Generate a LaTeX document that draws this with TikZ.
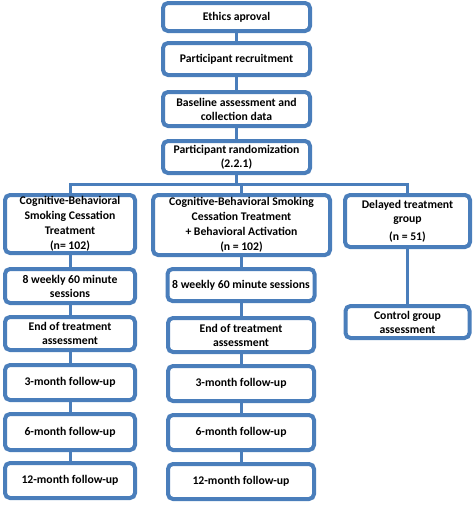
\documentclass[tikz,border=0pt]{standalone}
\usepackage{fontspec}
\setmainfont{Carlito}
\usetikzlibrary{shadows}
\definecolor{frame}{HTML}{4A7EBB}

\begin{document}
\begin{tikzpicture}[
  x=1pt, y=-1pt,
  stage/.style={rectangle, rounded corners=5pt, draw=frame, line width=4pt, fill=white, align=center, inner sep=1pt,
    font=\fontsize{11.7}{14}\selectfont\bfseries,
    drop shadow={opacity=0.2, shadow xshift=0.6pt, shadow yshift=-1.6pt}},
  link/.style={draw=frame, line width=3pt},
]
\useasboundingbox (0,0) rectangle (473,506);

% trunk
\node[stage, minimum width=147pt, minimum height=28pt] (ethics) at (236.5, 17) {Ethics aproval};
\node[stage, minimum width=147pt, minimum height=32pt] (recruit) at (236.5, 59) {Participant recruitment};
\node[stage, minimum width=147pt, minimum height=34pt] (baseline) at (236.5, 109) {Baseline assessment and\\collection data};
\node[stage, minimum width=147pt, minimum height=32pt] (random) at (236.5, 157) {Participant randomization\\(2.2.1)};

% groups
\node[stage, minimum width=130pt, minimum height=58pt] (cbt) at (70, 224) {Cognitive-Behavioral\\[1pt]Smoking Cessation\\[1pt]Treatment\\[1pt](n= 102)};
\node[stage, minimum width=177pt, minimum height=60pt] (cbtba) at (241.5, 225) {Cognitive-Behavioral Smoking\\[1pt]Cessation Treatment\\[1pt]+ Behavioral Activation\\[1pt](n = 102)};
\node[stage, minimum width=125pt, minimum height=52pt] (delayed) at (407.5, 221) {Delayed treatment\\group\\[4pt](n = 51)};

% left column
\node[stage, minimum width=130pt, minimum height=34pt] (sessA) at (70, 286) {8 weekly 60 minute\\sessions};
\node[stage, minimum width=130pt, minimum height=33pt] (endA) at (70, 333.5) {End of treatment\\assessment};
\node[stage, minimum width=130pt, minimum height=35pt] (mthreeA) at (70, 382.5) {3-month follow-up};
\node[stage, minimum width=130pt, minimum height=36pt] (msixA) at (70, 432) {6-month follow-up};
\node[stage, minimum width=130pt, minimum height=35pt] (mtwelveA) at (70, 480.5) {12-month follow-up};

% middle column
\node[stage, minimum width=147pt, minimum height=32pt] (sessB) at (241, 285) {8 weekly 60 minute sessions};
\node[stage, minimum width=146pt, minimum height=34pt] (endB) at (241, 335) {End of treatment\\assessment};
\node[stage, minimum width=146pt, minimum height=35pt] (mthreeB) at (241, 383.5) {3-month follow-up};
\node[stage, minimum width=146pt, minimum height=35pt] (msixB) at (241, 432.5) {6-month follow-up};
\node[stage, minimum width=146pt, minimum height=35pt] (mtwelveB) at (241, 481.5) {12-month follow-up};

% right column
\node[stage, minimum width=124pt, minimum height=32pt] (control) at (407.5, 322) {Control group\\assessment};

\coordinate (split) at (236.5, 184);

% trunk links
\draw[link] (ethics) -- (recruit);
\draw[link] (recruit) -- (baseline);
\draw[link] (baseline) -- (random);
\draw[link] (random) -- (split);
\draw[link] (cbt.north) |- (split) -| (delayed.north);
\draw[link] (split) -| (cbtba.north);

% column links
\draw[link] (cbt) -- (sessA);
\draw[link] (sessA) -- (endA);
\draw[link] (endA) -- (mthreeA);
\draw[link] (mthreeA) -- (msixA);
\draw[link] (msixA) -- (mtwelveA);
\draw[link] (cbtba.south) -- (cbtba.south |- sessB.north);
\draw[link] (sessB) -- (endB);
\draw[link] (endB) -- (mthreeB);
\draw[link] (mthreeB) -- (msixB);
\draw[link] (msixB) -- (mtwelveB);
\draw[link] (delayed) -- (control);

\end{tikzpicture}
\end{document}
